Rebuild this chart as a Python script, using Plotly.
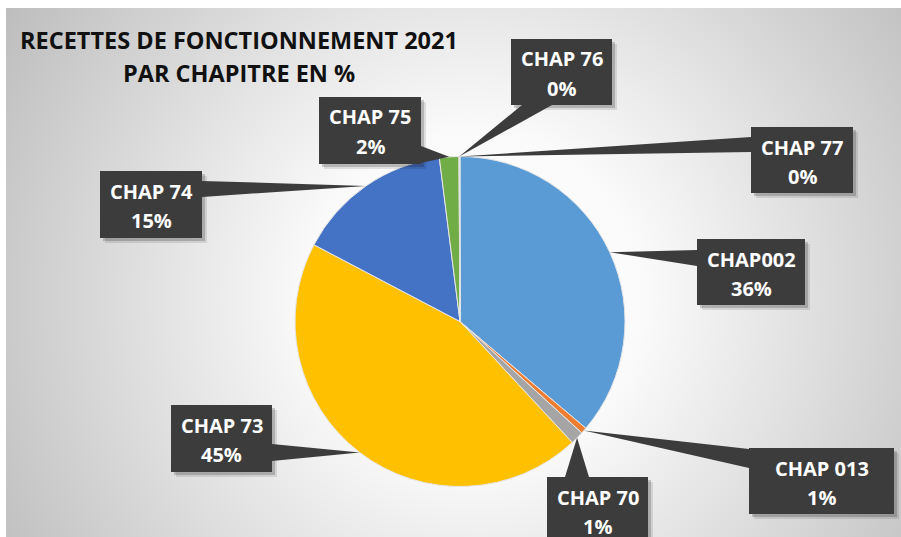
import base64, math
import plotly.graph_objects as go

W, H = 901, 537

# ---- data ----
labels = ["CHAP002", "CHAP 013", "CHAP 70", "CHAP 73", "CHAP 74", "CHAP 75", "CHAP 76", "CHAP 77"]
values = [36.2, 0.6, 1.3, 44.6, 15.3, 1.9, 0.05, 0.05]
colors = ["#5B9BD5", "#ED7D31", "#A5A5A5", "#FFC000", "#4472C4", "#70AD47", "#264478", "#9E480E"]
title_lines = ["RECETTES DE FONCTIONNEMENT 2021", "PAR CHAPITRE EN %"]

# ---- layout (pixels) ----
PIE_CX, PIE_CY, PIE_R = 460, 321.5, 165
# callout boxes: left, top, right, bottom
boxes = {
    "CHAP002": (697, 239, 805, 305),
    "CHAP 013": (749, 448, 894, 514),
    "CHAP 70": (547, 477, 648, 545),
    "CHAP 73": (171, 405, 272, 472),
    "CHAP 74": (100, 171, 202, 238),
    "CHAP 75": (319, 97, 421, 164),
    "CHAP 76": (511, 39, 612, 105),
    "CHAP 77": (751, 127, 853, 193),
}
# pointer bases on the box edge
bases = {
    "CHAP002": ((697, 250), (697, 266)),
    "CHAP 013": ((749, 449), (749, 468)),
    "CHAP 70": ((565, 477), (589, 477)),
    "CHAP 73": ((272, 444), (272, 461)),
    "CHAP 74": ((202, 181), (202, 197)),
    "CHAP 75": ((421, 146), (421, 163)),
    "CHAP 76": ((522, 105), (552, 105)),
    "CHAP 77": ((751, 137), (751, 152)),
}

def X(px):
    return px / W

def Y(py):
    return 1 - py / H

total = sum(values)

fig = go.Figure()
fig.add_trace(go.Pie(
    labels=labels, values=values, sort=False, direction="clockwise", rotation=0,
    marker=dict(colors=colors, line=dict(color="#E6E6E6", width=1)),
    textinfo="none", hoverinfo="label+percent", showlegend=False,
    domain=dict(x=[X(PIE_CX - PIE_R), X(PIE_CX + PIE_R)],
                y=[Y(PIE_CY + PIE_R), Y(PIE_CY - PIE_R)]),
))

shapes = []
annotations = []
BOX = "#3C3C3C"
cum = 0.0
for lab, v in zip(labels, values):
    mid = (cum + v / 2) / total * 2 * math.pi
    cum += v
    tx = PIE_CX + PIE_R * math.sin(mid)
    ty = PIE_CY - PIE_R * math.cos(mid)
    l, t, r, b = boxes[lab]
    # shadow
    for off, op in ((5, 0.10), (3, 0.18)):
        shapes.append(dict(type="rect", xref="paper", yref="paper",
                           x0=X(l + off), x1=X(r + off), y0=Y(b + off), y1=Y(t + off),
                           fillcolor=f"rgba(0,0,0,{op})", line=dict(width=0)))
    (bx1, by1), (bx2, by2) = bases[lab]
    path = f"M {X(tx)},{Y(ty)} L {X(bx1)},{Y(by1)} L {X(bx2)},{Y(by2)} Z"
    shapes.append(dict(type="path", xref="paper", yref="paper", path=path,
                       fillcolor=BOX, line=dict(width=0)))
    shapes.append(dict(type="rect", xref="paper", yref="paper",
                       x0=X(l), x1=X(r), y0=Y(b), y1=Y(t),
                       fillcolor=BOX, line=dict(width=0)))
    cx = (l + r) / 2
    pct = f"{round(v / total * 100):.0f}%"
    for txt, dy in ((lab, 20), (pct, 49)):
        annotations.append(dict(xref="paper", yref="paper", x=X(cx), y=Y(t + dy),
                                xanchor="center", yanchor="middle", showarrow=False,
                                text=f"<b>{txt}</b>",
                                font=dict(family="Open Sans", size=20, color="white")))

for i, line in enumerate(title_lines):
    annotations.append(dict(xref="paper", yref="paper", x=X(239), y=Y(40 + 33 * i),
                            xanchor="center", yanchor="middle", showarrow=False,
                            text=f"<b>{line}</b>",
                            font=dict(family="Open Sans", size=23.5, color="#111111")))

# radial gradient background
gw, gh = W - 6, H - 8
svg = f'''<svg xmlns="http://www.w3.org/2000/svg" width="{gw}" height="{gh}" viewBox="0 0 {gw} {gh}">
<defs><radialGradient id="g" gradientUnits="userSpaceOnUse" cx="470" cy="290" r="560">
<stop offset="0" stop-color="#ffffff"/><stop offset="0.3" stop-color="#fafafa"/>
<stop offset="1" stop-color="#bcbcbc"/></radialGradient></defs>
<rect width="{gw}" height="{gh}" fill="url(#g)"/></svg>'''
uri = "data:image/svg+xml;base64," + base64.b64encode(svg.encode()).decode()

fig.update_layout(
    width=W, height=H, margin=dict(l=0, r=0, t=0, b=0),
    paper_bgcolor="white", plot_bgcolor="white",
    shapes=shapes, annotations=annotations,
    images=[dict(source=uri, xref="paper", yref="paper", x=X(6), y=Y(8),
                 sizex=gw / W, sizey=gh / H, xanchor="left", yanchor="top",
                 sizing="stretch", layer="below")],
)
fig.write_html("out.html", config={"displayModeBar": False},
               post_script="document.body.style.margin='0';document.body.style.overflow='hidden';")
